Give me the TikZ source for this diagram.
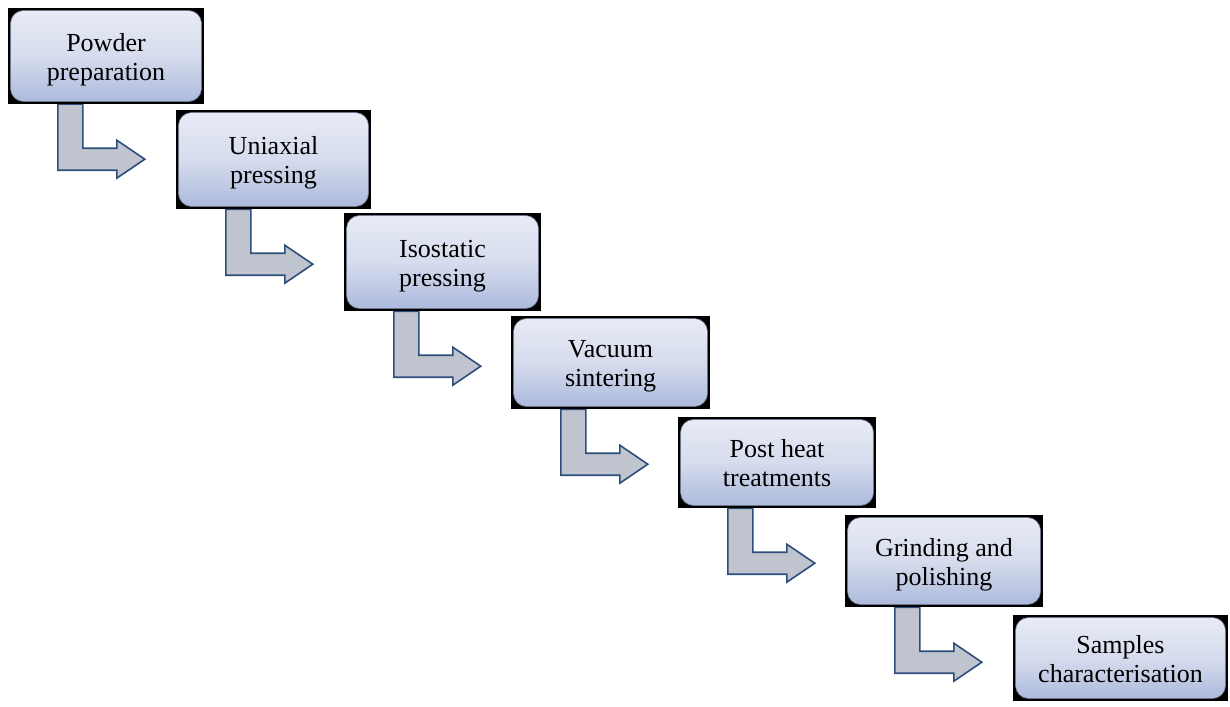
\documentclass[tikz,border=0pt]{standalone}
\usepackage{fontspec}
\setmainfont{Liberation Serif}
\definecolor{boxtop}{RGB}{233,236,246}
\definecolor{boxmid}{RGB}{214,220,237}
\definecolor{boxbot}{RGB}{170,184,220}
\definecolor{arrfill}{RGB}{192,196,206}
\definecolor{arrline}{RGB}{44,78,124}
\definecolor{boxedge}{RGB}{110,118,140}
\newcommand{\steptext}[2]{\raisebox{-4pt}[\height][\depth]{\begin{tabular}{@{}c@{}}#1\\#2\end{tabular}}}
\tikzset{
  stepbox/.style={rectangle, fill=black, inner sep=0pt, align=center,
    font=\fontsize{26}{29}\selectfont,
    path picture={
      \shade[top color=boxtop, bottom color=boxbot, middle color=boxmid, draw=boxedge, line width=0.6pt, rounded corners=13pt]
        ([shift={(2.5pt,-2.5pt)}]path picture bounding box.north west) rectangle
        ([shift={(-2.5pt,2.5pt)}]path picture bounding box.south east);
    }},
  bentarrow/.style={fill=arrfill, draw=arrline, line width=1.6pt, line join=miter}
}
\newcommand{\bentarr}[1]{%
  \draw[bentarrow, shift={(#1.south west)}]
    (50,0) -- (50,66) -- (109,66) -- (109,74) -- (137,55) -- (109,36) -- (109,44) -- (75,44) -- (75,0) -- cycle;}
\begin{document}
\begin{tikzpicture}[x=1pt,y=-1pt]
\useasboundingbox (0,0) rectangle (1230,706);
\coordinate (c1) at (106,56);
\coordinate (c2) at (273.5,159.5);
\coordinate (c3) at (442.5,262);
\coordinate (c4) at (610.5,362.5);
\coordinate (c5) at (777,462.5);
\coordinate (c6) at (944,561);
\coordinate (c7) at (1120.5,658);
% guide nodes for the arrows (drawn first, partly hidden by boxes)
\path (c1) node[minimum width=196pt, minimum height=96pt, inner sep=0pt] (g1) {};
\path (c2) node[minimum width=195pt, minimum height=99pt, inner sep=0pt] (g2) {};
\path (c3) node[minimum width=197pt, minimum height=98pt, inner sep=0pt] (g3) {};
\path (c4) node[minimum width=199pt, minimum height=93pt, inner sep=0pt] (g4) {};
\path (c5) node[minimum width=198pt, minimum height=91pt, inner sep=0pt] (g5) {};
\path (c6) node[minimum width=198pt, minimum height=92pt, inner sep=0pt] (g6) {};
\bentarr{g1}
\bentarr{g2}
\bentarr{g3}
\bentarr{g4}
\bentarr{g5}
\bentarr{g6}
\node[stepbox, minimum width=196pt, minimum height=96pt] (b1) at (c1) {\steptext{Powder}{preparation}};
\node[stepbox, minimum width=195pt, minimum height=99pt] (b2) at (c2) {\steptext{Uniaxial}{pressing}};
\node[stepbox, minimum width=197pt, minimum height=98pt] (b3) at (c3) {\steptext{Isostatic}{pressing}};
\node[stepbox, minimum width=199pt, minimum height=93pt] (b4) at (c4) {\steptext{Vacuum}{sintering}};
\node[stepbox, minimum width=198pt, minimum height=91pt] (b5) at (c5) {\steptext{Post heat}{treatments}};
\node[stepbox, minimum width=198pt, minimum height=92pt] (b6) at (c6) {\steptext{Grinding and}{polishing}};
\node[stepbox, minimum width=215pt, minimum height=86pt] (b7) at (c7) {\steptext{Samples}{characterisation}};
\end{tikzpicture}
\end{document}
